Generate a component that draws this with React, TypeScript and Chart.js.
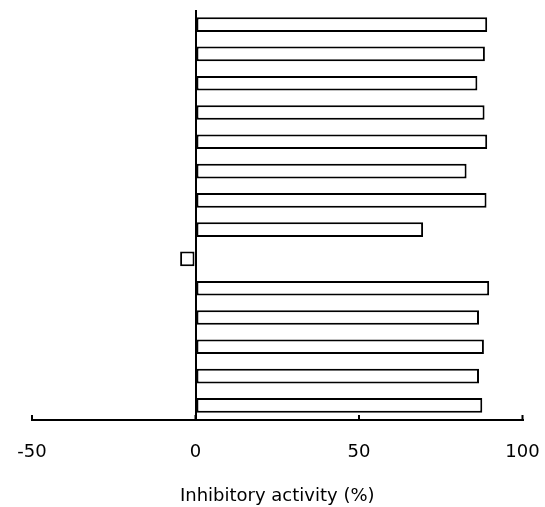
import React, { useEffect, useRef } from "react";
import { Chart, registerables } from "chart.js";

Chart.register(...registerables);

const categories: string[] = [
  "1", "2", "3", "4", "5", "6", "7", "8", "9", "10", "11", "12", "13", "14",
];
const inhibitoryActivity: number[] = [
  89.2, 88.5, 86.2, 88.4, 89.2, 82.9, 89.0, 69.6, -4.7, 89.8, 86.7, 88.2, 86.7, 87.7,
];
const xTickValues: number[] = [-50, 0, 50, 100];
const axisTitle = "Inhibitory activity (%)";

const innerTicksPlugin = {
  id: "innerTicks",
  afterDraw(chart: any) {
    const xs = chart.scales.x;
    if (!xs) return;
    const ctx = chart.ctx;
    const yBase = chart.chartArea.bottom;
    ctx.save();
    ctx.strokeStyle = "#000000";
    ctx.lineWidth = 2;
    ctx.beginPath();
    xs.ticks.forEach((t: any) => {
      const px = xs.getPixelForValue(t.value);
      ctx.moveTo(px, yBase);
      ctx.lineTo(px, yBase - 5);
    });
    ctx.stroke();
    ctx.restore();
  },
};

export default function App() {
  const canvasRef = useRef<HTMLCanvasElement | null>(null);

  useEffect(() => {
    document.body.style.margin = "0";
    const canvas = canvasRef.current;
    if (!canvas) return;
    const font = { family: "'DejaVu Sans', sans-serif", size: 18 };
    const chart = new Chart(canvas, {
      type: "bar",
      data: {
        labels: categories,
        datasets: [
          {
            data: inhibitoryActivity,
            backgroundColor: "#ffffff",
            borderColor: "#000000",
            borderWidth: 2,
            borderSkipped: false,
            barPercentage: 0.5,
            categoryPercentage: 1,
          },
        ],
      },
      options: {
        indexAxis: "y",
        animation: false,
        responsive: false,
        layout: { padding: { left: 32, right: 22.5, top: 10, bottom: 0 } },
        plugins: {
          legend: { display: false },
          tooltip: { enabled: false },
        },
        scales: {
          x: {
            type: "linear",
            min: -50,
            max: 100,
            z: 1,
            afterBuildTicks: (scale: any) => {
              scale.ticks = xTickValues.map((v) => ({ value: v }));
            },
            border: { display: true, color: "#000000", width: 2 },
            grid: {
              drawOnChartArea: true,
              drawTicks: true,
              tickLength: 21.5,
              tickColor: "rgba(0,0,0,0)",
              lineWidth: 2,
              color: (ctx: any) =>
                ctx.tick && ctx.tick.value === 0 ? "#000000" : "rgba(0,0,0,0)",
            },
            ticks: {
              color: "#000000",
              font,
              padding: 0,
              maxRotation: 0,
            },
            title: {
              display: true,
              text: axisTitle,
              color: "#000000",
              font,
              padding: { top: 22.3, bottom: 0 },
            },
          },
          y: {
            type: "category",
            display: false,
          },
        },
      },
      plugins: [innerTicksPlugin],
    });
    return () => chart.destroy();
  }, []);

  return (
    <div style={{ width: 545, height: 507 }}>
      <canvas ref={canvasRef} width={545} height={507} />
    </div>
  );
}
